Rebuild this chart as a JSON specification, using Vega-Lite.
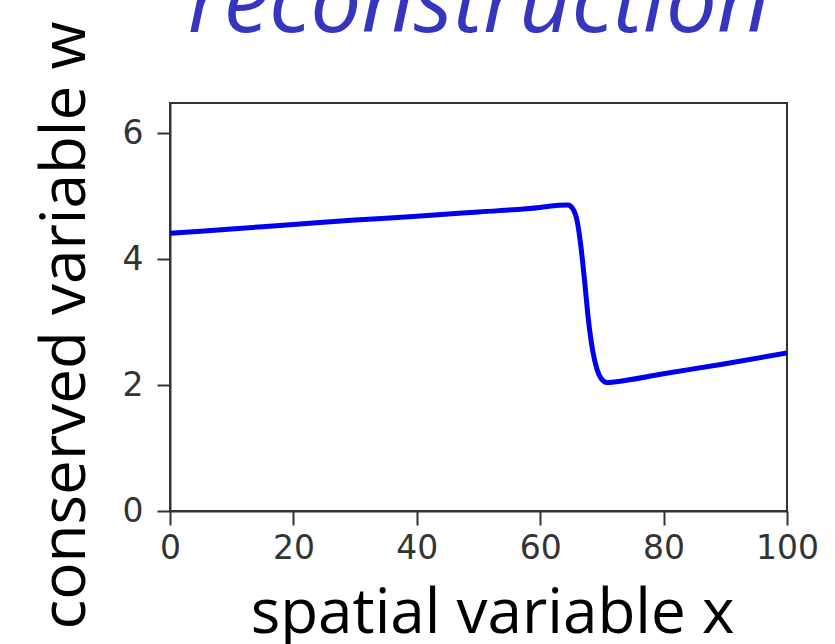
{
  "$schema": "https://vega.github.io/schema/vega-lite/v6.json",
  "width": 617,
  "height": 408,
  "autosize": {"type": "none"},
  "padding": {"left": 170, "top": 103, "right": 48, "bottom": 133},
  "background": "white",
  "title": {
    "text": "reconstruction",
    "anchor": "middle",
    "frame": "group",
    "font": "Open Sans",
    "fontStyle": "italic",
    "fontWeight": "normal",
    "fontSize": 91,
    "color": "#3535c0",
    "baseline": "alphabetic",
    "offset": 0,
    "dy": 102
  },
  "data": {
    "values": [
      {"x": 0, "w": 4.41},
      {"x": 10, "w": 4.48},
      {"x": 20, "w": 4.55},
      {"x": 30, "w": 4.62},
      {"x": 40, "w": 4.68},
      {"x": 50, "w": 4.75},
      {"x": 60, "w": 4.82},
      {"x": 63, "w": 4.855},
      {"x": 64.5, "w": 4.86},
      {"x": 65.3, "w": 4.8},
      {"x": 66, "w": 4.6},
      {"x": 66.6, "w": 4.2},
      {"x": 67.2, "w": 3.65},
      {"x": 67.8, "w": 3.05},
      {"x": 68.5, "w": 2.55},
      {"x": 69.2, "w": 2.25},
      {"x": 69.9, "w": 2.1},
      {"x": 70.8, "w": 2.04},
      {"x": 72, "w": 2.05},
      {"x": 80, "w": 2.18},
      {"x": 90, "w": 2.34},
      {"x": 100, "w": 2.51}
    ]
  },
  "mark": {"type": "line", "color": "#0000ee", "strokeWidth": 5, "interpolate": "monotone", "clip": true},
  "encoding": {
    "x": {
      "field": "x",
      "type": "quantitative",
      "scale": {"domain": [0, 100], "nice": false, "zero": false},
      "axis": {
        "values": [0, 20, 40, 60, 80, 100],
        "title": "spatial variable x",
        "titleFont": "Open Sans",
        "titleFontSize": 62,
        "titleFontWeight": "normal",
        "titleColor": "#000000",
        "titleBaseline": "alphabetic",
        "titleX": 322,
        "titleY": 121,
        "titleAnchor": "middle",
        "labelFont": "DejaVu Sans",
        "labelFontSize": 33,
        "labelColor": "#333333",
        "labelPadding": 7,
        "labelFlush": false,
        "tickSize": 14,
        "tickWidth": 2,
        "tickColor": "#333333",
        "domainColor": "#333333",
        "domainWidth": 2,
        "grid": false
      }
    },
    "y": {
      "field": "w",
      "type": "quantitative",
      "scale": {"domain": [0, 6.48], "nice": false, "zero": false},
      "axis": {
        "values": [0, 2, 4, 6],
        "title": "conserved variable w",
        "titleFont": "Open Sans",
        "titleFontSize": 62,
        "titleFontWeight": "normal",
        "titleColor": "#000000",
        "titleAngle": -90,
        "titleBaseline": "alphabetic",
        "titleX": -86,
        "titleY": 222,
        "titleAnchor": "middle",
        "labelFont": "DejaVu Sans",
        "labelFontSize": 33,
        "labelColor": "#333333",
        "labelPadding": 14,
        "labelFlush": false,
        "tickSize": 13,
        "tickWidth": 2,
        "tickColor": "#333333",
        "domainColor": "#333333",
        "domainWidth": 2,
        "grid": false
      }
    }
  },
  "config": {
    "view": {"stroke": "#333333", "strokeWidth": 2}
  }
}
